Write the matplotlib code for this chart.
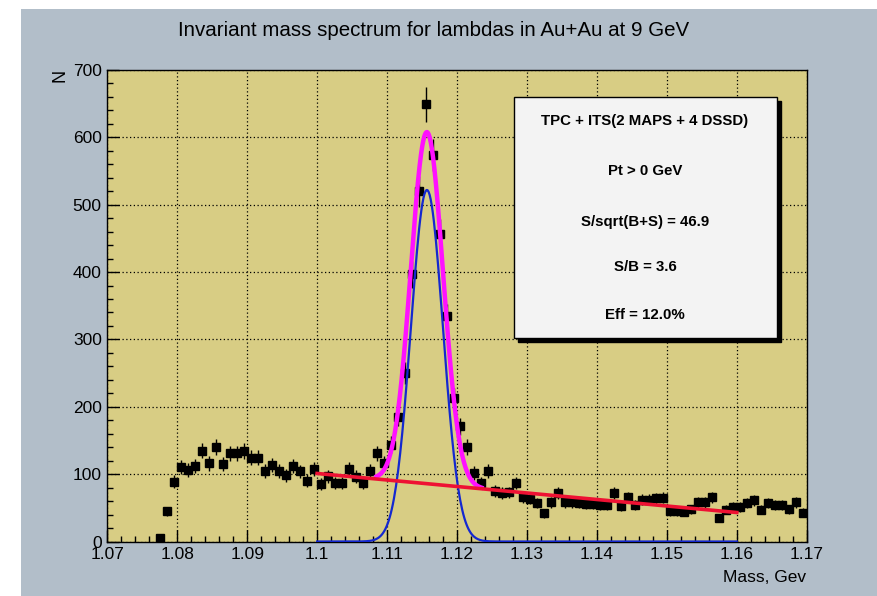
import matplotlib
matplotlib.use("Agg")
import matplotlib.pyplot as plt
import matplotlib.transforms as mtransforms
from matplotlib.patches import Rectangle
from matplotlib.ticker import MultipleLocator
import numpy as np

plt.rcParams['font.family'] = ['Liberation Sans', 'DejaVu Sans']

# histogram: bin centres (1 MeV bins) and counts
mass = np.round(np.arange(1.0775, 1.1700, 0.001), 4)
counts = [5, 45, 89, 111, 106, 112, 135, 116, 141, 115,
          131, 131, 134, 124, 124, 105, 114, 105, 98, 112,
          104, 90, 107, 85, 97, 87, 87, 107, 96, 87,
          105, 131, 116, 144, 185, 250, 397, 520, 649, 574,
          457, 335, 213, 171, 140, 102, 87, 105, 75, 72,
          73, 87, 66, 63, 57, 42, 58, 72, 58, 58,
          57, 56, 56, 54, 54, 72, 53, 66, 54, 62,
          62, 64, 65, 45, 45, 44, 48, 58, 58, 66,
          35, 47, 51, 51, 57, 61, 47, 57, 54, 54,
          48, 58, 43]
counts = np.array(counts, dtype=float)
errors = np.sqrt(counts)

# fit parameters
gaus_amp = 522.0
gaus_mean = 1.1157
gaus_sigma = 0.0023
bkg_at_110 = 101.0
bkg_slope = -966.0
bkg_range = (1.100, 1.160)
sum_range = (1.1085, 1.1235)

box_lines = ["TPC + ITS(2 MAPS + 4 DSSD)", "Pt > 0 GeV", "S/sqrt(B+S) = 46.9",
             "S/B = 3.6", "Eff = 12.0%"]


def gaus(x):
    return gaus_amp * np.exp(-0.5 * ((x - gaus_mean) / gaus_sigma) ** 2)


def bkg(x):
    return bkg_at_110 + bkg_slope * (x - 1.10)


fig = plt.figure(figsize=(8.78, 5.96), dpi=100, facecolor='white')
# canvas fill
fig.patches.append(Rectangle((21 / 878, 0), 1, (596 - 9) / 596, transform=fig.transFigure,
                             facecolor='#b2bec9', edgecolor='none', zorder=-5))

ax = fig.add_axes([107.3 / 878, 1 - 541.5 / 596, 699.4 / 878, 471.5 / 596])
ax.set_facecolor('#d8cd84')

ax.errorbar(mass, counts, yerr=errors, fmt='s', color='black', ms=5.5, elinewidth=1,
            capsize=0, zorder=3)

xb = np.linspace(bkg_range[0], bkg_range[1], 400)
xs = np.linspace(sum_range[0], sum_range[1], 300)
ax.plot(xs, gaus(xs) + bkg(xs), color='#ff10ff', lw=3.2, zorder=4)
ax.plot(xb, gaus(xb), color='#1428d0', lw=1.6, zorder=5)
ax.plot(xb, bkg(xb), color='#ee1133', lw=2.6, zorder=6)

ax.set_xlim(1.07, 1.17)
ax.set_ylim(0, 700)
ax.xaxis.set_major_locator(MultipleLocator(0.01))
ax.xaxis.set_minor_locator(MultipleLocator(0.002))
ax.yaxis.set_major_locator(MultipleLocator(100))
ax.yaxis.set_minor_locator(MultipleLocator(20))
ax.xaxis.set_major_formatter(matplotlib.ticker.FuncFormatter(
    lambda v, p: ('%.2f' % v).rstrip('0').rstrip('.')))
ax.tick_params(which='both', direction='in', top=False, right=False, labelsize=12.5, pad=4)
ax.tick_params(which='major', length=8.5, width=1)
ax.tick_params(which='minor', length=4.3, width=1)
ax.grid(True, which='major', color='black', linestyle=(0, (1, 2)), linewidth=0.9)
ax.set_axisbelow(True)
for s in ax.spines.values():
    s.set_linewidth(1.0)

fig.text(434 / 878, 1 - 30 / 596, "Invariant mass spectrum for lambdas in Au+Au at 9 GeV",
         ha='center', va='center', fontsize=14.8)
fig.text(806 / 878, 1 - 577 / 596, "Mass, Gev", ha='right', va='center', fontsize=12.5)
fig.text(60 / 878, 1 - 69 / 596, "N", ha='center', va='top', rotation=90, fontsize=13)

# stats box with shadow
bx0, by0, bw, bh = 0.5815, 0.4316, 0.3760, 0.5111
shadow = mtransforms.offset_copy(ax.transAxes, fig=fig, x=4, y=-4, units='dots')
ax.add_patch(Rectangle((bx0, by0), bw, bh, transform=shadow, facecolor='black',
                       edgecolor='black', zorder=8, clip_on=False))
ax.add_patch(Rectangle((bx0, by0), bw, bh, transform=ax.transAxes, facecolor='#f3f3f3',
                       edgecolor='black', lw=1, zorder=9, clip_on=False))
for line, yy in zip(box_lines, [0.8918, 0.7858, 0.6776, 0.5821, 0.4804]):
    ax.text(0.7688, yy, line, transform=ax.transAxes, ha='center', va='center',
            fontsize=10.8, fontweight='bold', zorder=10)

fig.savefig('out.png', dpi=100, facecolor=fig.get_facecolor())
